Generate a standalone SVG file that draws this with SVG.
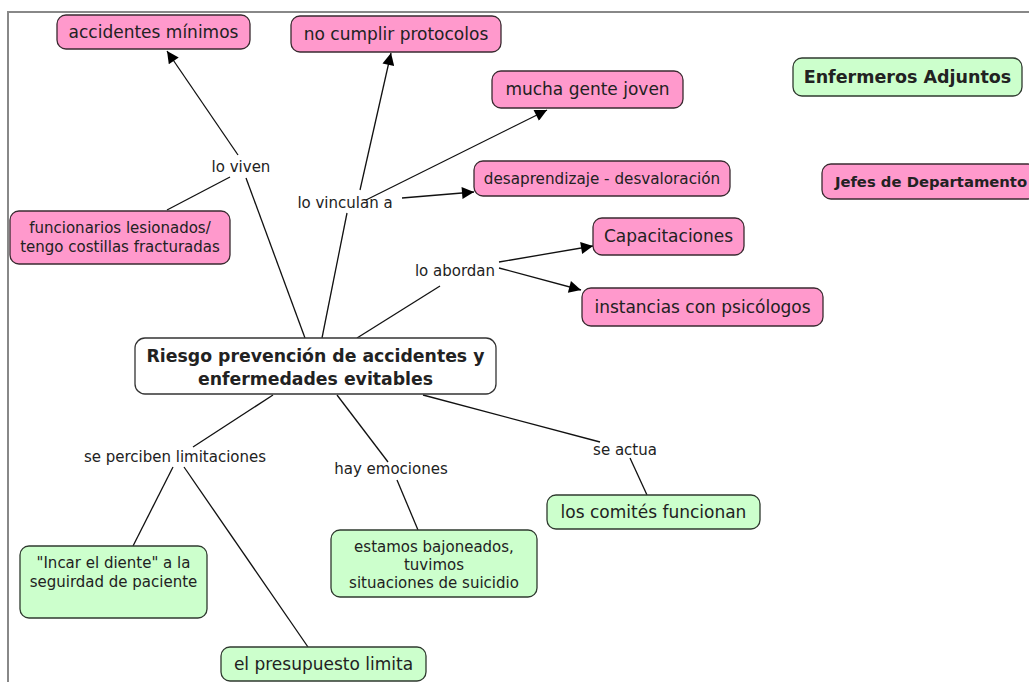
<svg xmlns="http://www.w3.org/2000/svg" width="1029" height="682" viewBox="0 0 1029 682">
<defs>
<marker id="arr" viewBox="0 0 10 10" refX="10" refY="5" markerWidth="17" markerHeight="12" markerUnits="userSpaceOnUse" orient="auto">
<path d="M0,0 L10,5 L0,10 z" fill="#000"/>
</marker>
<style>
.pink{fill:#FF99CC;stroke:#3a2a30;stroke-width:1.3}
.green{fill:#CCFFCC;stroke:#2f3a2f;stroke-width:1.3}
.white{fill:#fff;stroke:#333;stroke-width:1.3}
text{font-family:"DejaVu Sans","Verdana",sans-serif;fill:#222;text-anchor:middle}
.t16{font-size:17px}
.t14{font-size:15px}
.t15{font-size:15.2px}
.b16{font-size:17.3px;font-weight:bold}
.b17{font-size:17.5px;font-weight:bold}
.b14{font-size:14.8px;font-weight:bold}
.lbl{font-size:15px}
.c line{stroke:#111;stroke-width:1.3;fill:none}
.c line.a{marker-end:url(#arr)}
</style>
</defs>
<rect width="1029" height="682" fill="#fff"/>
<path d="M8,682 L8,12 L1029,12" fill="none" stroke="#888" stroke-width="2"/>

<g class="c" id="connectors">
<line x1="305" y1="338" x2="246" y2="178"/>
<line class="a" x1="238" y1="155" x2="167" y2="51"/>
<line x1="230" y1="177" x2="167" y2="210"/>
<line x1="322" y1="338" x2="347" y2="213"/>
<line class="a" x1="360" y1="190" x2="391" y2="53"/>
<line class="a" x1="366" y1="200" x2="547" y2="110"/>
<line class="a" x1="402" y1="198" x2="474" y2="192"/>
<line x1="357" y1="338" x2="440" y2="286"/>
<line class="a" x1="499" y1="262" x2="593" y2="246"/>
<line class="a" x1="499" y1="268" x2="581" y2="290"/>
<line x1="273" y1="395" x2="193" y2="447"/>
<line x1="173" y1="467" x2="133" y2="546"/>
<line x1="184" y1="467" x2="308" y2="647"/>
<line x1="337" y1="395" x2="388" y2="462"/>
<line x1="397" y1="480" x2="418" y2="530"/>
<line x1="423" y1="395" x2="600" y2="442"/>
<line x1="630" y1="458" x2="647" y2="495"/>
</g>

<g id="labels">
<text class="lbl" x="241" y="172">lo viven</text>
<text class="lbl" x="345" y="208">lo vinculan a</text>
<text class="lbl" x="455" y="276">lo abordan</text>
<text class="lbl" x="175" y="462">se perciben limitaciones</text>
<text class="lbl" x="391" y="474">hay emociones</text>
<text class="lbl" x="625" y="455">se actua</text>
</g>

<g id="n-accidentes">
<rect class="pink" x="57" y="15" width="193" height="34" rx="9"/>
<text class="t16" x="153.5" y="38">accidentes mínimos</text>
</g>
<g id="n-protocolos">
<rect class="pink" x="291" y="16" width="210" height="36" rx="9"/>
<text class="t16" x="396" y="40">no cumplir protocolos</text>
</g>
<g id="n-joven">
<rect class="pink" x="492" y="71" width="191" height="37" rx="9"/>
<text class="t16" x="587.5" y="95">mucha gente joven</text>
</g>
<g id="n-enfermeros">
<rect class="green" x="793" y="58" width="229" height="38" rx="9"/>
<text class="b17" x="907.5" y="83">Enfermeros Adjuntos</text>
</g>
<g id="n-desaprendizaje">
<rect class="pink" x="474" y="161" width="256" height="35" rx="9"/>
<text class="t15" x="602" y="184">desaprendizaje - desvaloración</text>
</g>
<g id="n-jefes">
<rect class="pink" x="822" y="164" width="215" height="35" rx="9"/>
<text class="b14" x="931" y="187">Jefes de Departamento</text>
</g>
<g id="n-funcionarios">
<rect class="pink" x="10" y="211" width="220" height="53" rx="9"/>
<text class="t14" x="120" y="233">funcionarios lesionados/</text>
<text class="t14" x="120" y="252">tengo costillas fracturadas</text>
</g>
<g id="n-capacitaciones">
<rect class="pink" x="593" y="218" width="151" height="37" rx="9"/>
<text class="t16" x="668.5" y="242">Capacitaciones</text>
</g>
<g id="n-instancias">
<rect class="pink" x="582" y="288" width="241" height="38" rx="9"/>
<text class="t16" x="702.5" y="313">instancias con psicólogos</text>
</g>
<g id="n-central">
<rect class="white" x="135" y="338" width="361" height="56" rx="10"/>
<text class="b16" x="315.5" y="362">Riesgo prevención de accidentes y</text>
<text class="b16" x="315.5" y="385">enfermedades evitables</text>
</g>
<g id="n-incar">
<rect class="green" x="20" y="546" width="187" height="72" rx="9"/>
<text class="t14" x="113.5" y="568">"Incar el diente" a la</text>
<text class="t14" x="113.5" y="587">seguirdad de paciente</text>
</g>
<g id="n-estamos">
<rect class="green" x="331" y="530" width="206" height="67" rx="9"/>
<text class="t14" x="434" y="552">estamos bajoneados,</text>
<text class="t14" x="434" y="570">tuvimos</text>
<text class="t14" x="434" y="588">situaciones de suicidio</text>
</g>
<g id="n-comites">
<rect class="green" x="547" y="495" width="213" height="34" rx="9"/>
<text class="t16" x="653.5" y="518">los comités funcionan</text>
</g>
<g id="n-presupuesto">
<rect class="green" x="221" y="647" width="205" height="34" rx="9"/>
<text class="t16" x="323.5" y="670">el presupuesto limita</text>
</g>
</svg>
